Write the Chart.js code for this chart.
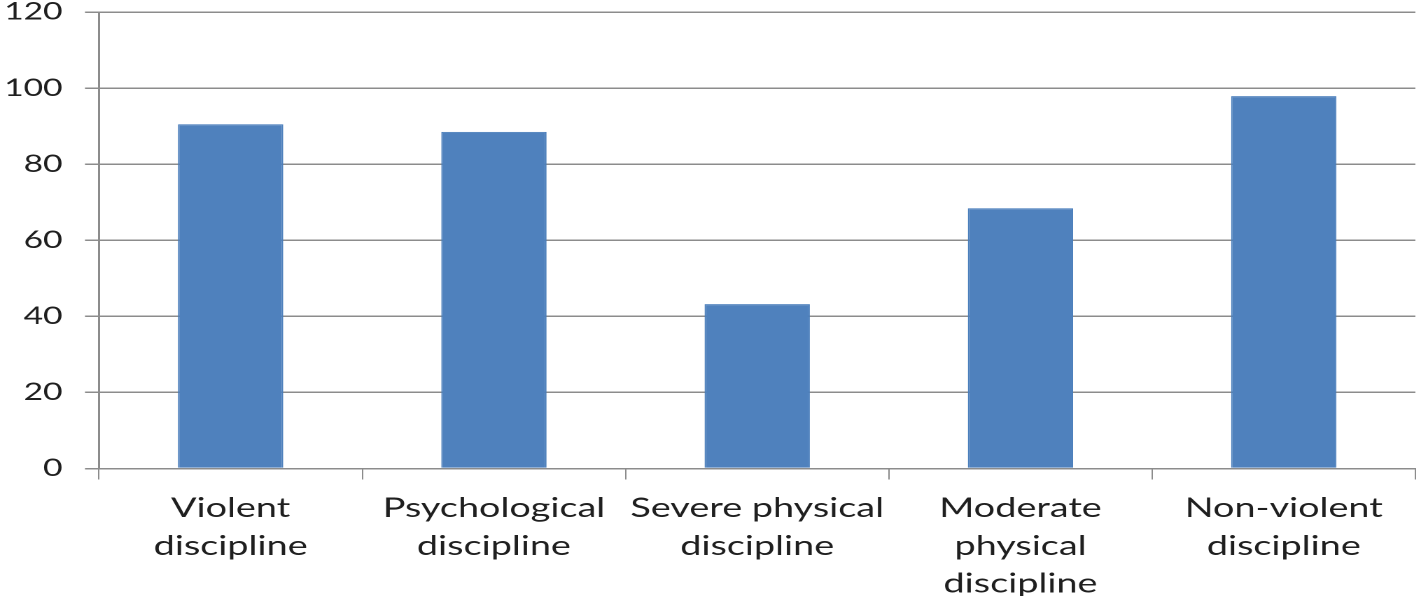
<!DOCTYPE html>
<html>
<head>
<meta charset="utf-8">
<script src="https://cdn.jsdelivr.net/npm/chart.js@4/dist/chart.umd.min.js"></script>
<style>
  html, body { margin: 0; padding: 0; background: #ffffff; overflow: hidden; }
  #wrap { position: absolute; left: 0; top: 0; width: 1013px; height: 596px; transform: scaleX(1.4); transform-origin: 0 0; }
</style>
</head>
<body>
<div id="wrap"><canvas id="c" width="1013" height="596"></canvas></div>
<script>
const categories = [
  ["Violent", "discipline"],
  ["Psychological", "discipline"],
  ["Severe physical", "discipline"],
  ["Moderate", "physical", "discipline"],
  ["Non-violent", "discipline"]
];
const values = [90.5, 88.5, 43.2, 68.4, 97.9];
const yTicks = [0, 20, 40, 60, 80, 100, 120];

const gridColor = '#8c8c8c';
const textColor = '#1f1f1f';

new Chart(document.getElementById('c'), {
  type: 'bar',
  data: {
    labels: categories,
    datasets: [{
      data: values,
      backgroundColor: '#4f81bd',
      borderColor: '#4a7ebb',
      borderWidth: 1,
      barPercentage: 0.4,
      categoryPercentage: 1.0
    }]
  },
  options: {
    responsive: false,
    devicePixelRatio: 2,
    animation: false,
    layout: { padding: { top: 12, right: 2, left: 0, bottom: 0 } },
    plugins: { legend: { display: false }, tooltip: { enabled: false } },
    scales: {
      x: {
        offset: true,
        grid: { display: true, offset: true, drawOnChartArea: false, drawTicks: true, tickLength: 11, color: gridColor, lineWidth: 1 },
        border: { display: true, color: gridColor, width: 1.5 },
        ticks: {
          color: textColor,
          font: { family: 'Lato', size: 27, lineHeight: 1.4 },
          padding: 10,
          maxRotation: 0,
          autoSkip: false
        },
        afterFit: (s) => { s.height = 127.5; s.paddingLeft = 0; s.paddingRight = 0; }
      },
      y: {
        min: 0,
        max: 120,
        afterBuildTicks: (s) => { s.ticks = yTicks.map(v => ({ value: v })); },
        grid: { color: gridColor, lineWidth: 1.5, tickLength: 10, drawTicks: true },
        border: { display: true, color: gridColor, width: 1.5 },
        ticks: {
          color: textColor,
          font: { family: 'Lato', size: 24 },
          padding: 16
        },
        afterFit: (s) => { s.width = 70.7; s.paddingTop = 0; s.paddingBottom = 0; }
      }
    }
  }
});
</script>
</body>
</html>
